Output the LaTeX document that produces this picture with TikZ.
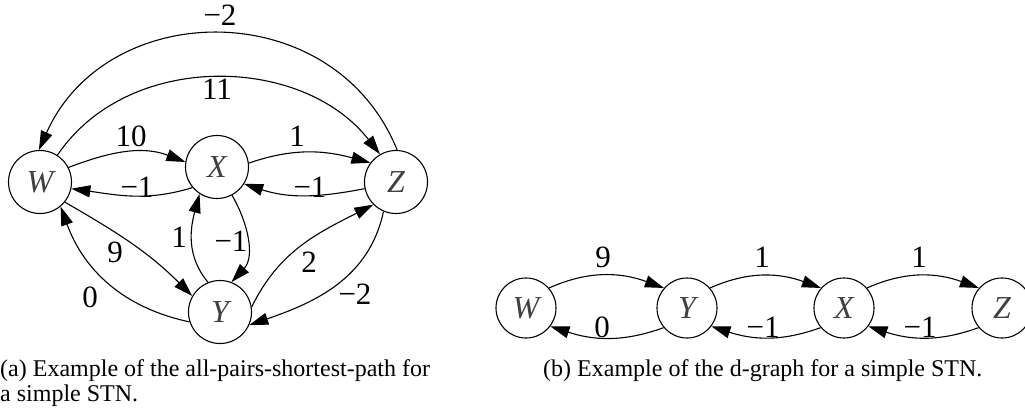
\documentclass[tikz,border=0pt]{standalone}
\usepackage{fontspec}
\setmainfont{Liberation Serif}
\usetikzlibrary{arrows.meta}
\begin{document}
\begin{tikzpicture}[x=1pt,y=1pt,
  vtx/.style={circle,draw,line width=1.1pt,inner sep=0pt,minimum size=63pt,
    font=\fontsize{32}{32}\selectfont\itshape,text=black!75},
  vtxb/.style={vtx,minimum size=60pt},
  edge/.style={line width=1.1pt,-{Triangle[length=19pt,width=12pt]}},
  lbl/.style={inner sep=0pt,font=\fontsize{31}{31}\selectfont},
  captxt/.style={inner sep=0pt,anchor=base west,font=\fontsize{24}{25}\selectfont}]
\useasboundingbox (0,0) rectangle (1025,-414);
% (a)
\node[vtx] (W) at (40,-182) {W};
\node[vtx] (X) at (217,-167) {X};
\node[vtx] (Z) at (396,-182) {Z};
\node[vtx] (Y) at (220,-312) {Y};
\draw[edge] (Z.88) to[out=112,in=66,looseness=1.2] (W.92);
\draw[edge] (W.57) to[out=56,in=128] (Z.120);
\draw[edge] (W.27) to[out=21,in=159] (X.171);
\draw[edge] (X.220) to[out=197,in=-8] (W.-12);
\draw[edge] (X.7) to[out=19,in=165] (Z.143);
\draw[edge] (Z.192) to[out=191,in=-18] (X.-32);
\draw[edge] (W.-39) to[out=-30,in=135] (Y.150);
\draw[edge] (Y.198) to[out=168,in=-70] (W.-50);
\draw[edge] (Y.112) to[out=130,in=-105] (X.237);
\draw[edge] (X.-62) to[out=-60,in=47] (Y.69);
\draw[edge] (Y.9) to[out=64,in=207] (Z.225);
\draw[edge] (Z.247) to[out=258,in=19] (Y.-24);
\node[lbl] (la1) at (220,-15) {\char"2212 2};
\node[lbl] (la2) at (217,-89) {11};
\node[lbl] (la3) at (131,-136) {10};
\node[lbl] (la4) at (297,-136) {1};
\node[lbl] (la5) at (137,-187) {\char"2212 1};
\node[lbl] (la6) at (310,-187) {\char"2212 1};
\node[lbl] (la7) at (115,-252) {9};
\node[lbl] (la8) at (90,-297) {0};
\node[lbl] (la9) at (179,-237) {1};
\node[lbl] (la10) at (231,-241) {\char"2212 1};
\node[lbl] (la11) at (309,-262) {2};
\node[lbl] (la12) at (355,-294) {\char"2212 2};
\node[captxt] (capa1) at (0,-376) {(a) Example of the all-pairs-shortest-path for};
\node[captxt] (capa2) at (0,-401) {a simple STN.};
% (b)
\node[vtxb] (bW) at (526,-308) {W};
\node[vtxb] (bY) at (687,-308) {Y};
\node[vtxb] (bX) at (844,-308) {X};
\node[vtxb] (bZ) at (1002,-308) {Z};
\draw[edge] (bW.41) to[out=24,in=160] (bY.139);
\draw[edge] (bY.220) to[out=200,in=-18] (bW.-37);
\draw[edge] (bY.41) to[out=24,in=160] (bX.139);
\draw[edge] (bX.220) to[out=200,in=-18] (bY.-37);
\draw[edge] (bX.41) to[out=24,in=160] (bZ.139);
\draw[edge] (bZ.220) to[out=200,in=-18] (bX.-37);
\node[lbl] (lb1) at (603,-257) {9};
\node[lbl] (lb2) at (602,-327) {0};
\node[lbl] (lb3) at (762,-257) {1};
\node[lbl] (lb4) at (763,-327) {\char"2212 1};
\node[lbl] (lb5) at (919,-257) {1};
\node[lbl] (lb6) at (920,-327) {\char"2212 1};
\node[captxt] (capb) at (543,-376) {(b) Example of the d-graph for a simple STN.};
\end{tikzpicture}
\end{document}
